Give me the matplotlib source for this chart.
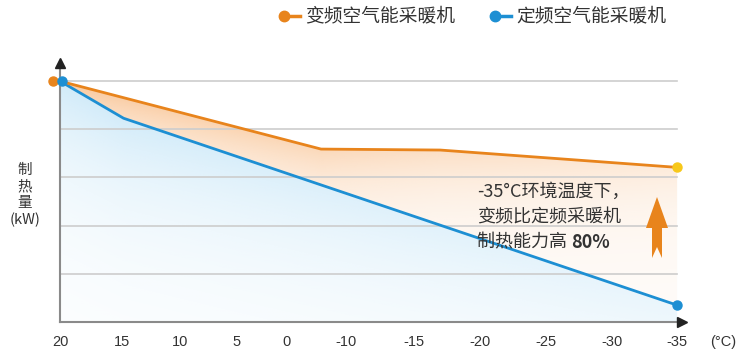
import numpy as np
import matplotlib
matplotlib.use("Agg")
import matplotlib.pyplot as plt
from matplotlib.patches import Polygon
from matplotlib.transforms import ScaledTranslation
from matplotlib.colors import to_rgb

plt.rcParams['font.family'] = ['Noto Sans CJK SC', 'DejaVu Sans']

# ---------------- data ----------------
temp_labels = ['20', '15', '10', '5', '0', '-10', '-15', '-20', '-25', '-30', '-35']
tick_pos = [0, 1.0, 1.94, 2.86, 3.67, 4.64, 5.73, 6.81, 7.88, 8.95, 10.0]
inverter_pos = [0, 4.23, 6.16, 10]
inverter_val = [5.0, 3.59, 3.57, 3.21]
fixed_pos = [0, 1.03, 10]
fixed_val = [5.0, 4.23, 0.35]
grid_levels = [1, 2, 3, 4, 5]
series_names = ['变频空气能采暖机', '定频空气能采暖机']

ORANGE = '#e8841c'
BLUE = '#1d8fd3'
YELLOW = '#f7c81a'

fig = plt.figure(figsize=(7.5, 3.59), dpi=100)
ax = fig.add_axes([0.08, 0.103, 0.836, 0.73])
ax.set_xlim(0, 10.16)
ax.set_ylim(0, 5.44)
for s in ax.spines.values():
    s.set_visible(False)
ax.set_xticks([])
ax.set_yticks([])

# grid lines (drawn over the fills)
for g in grid_levels:
    ax.plot([0, 10], [g, g], color='#cdcdcd', lw=1.2, zorder=3)

# ---------- gradient fills ----------
xs = np.linspace(0, 10, 400)
ys = np.linspace(0, 5, 300)
X, Y = np.meshgrid(xs, ys)

# blue area under fixed-frequency line
blue_poly = Polygon([(0, 0)] + list(zip(fixed_pos, fixed_val)) + [(10, 0)],
                    closed=True, facecolor='none', edgecolor='none')
ax.add_patch(blue_poly)
rgb = to_rgb('#bfe3f7')
img = np.zeros(X.shape + (4,))
img[..., 0], img[..., 1], img[..., 2] = rgb
line_b = np.interp(X, fixed_pos, fixed_val)
dist_b = np.clip(line_b - Y, 0, None)
img[..., 3] = np.clip(0.72 * np.exp(-dist_b / 1.9) * (1 - X / 18), 0, 1)
im = ax.imshow(img, extent=(0, 10, 0, 5), origin='lower', aspect='auto', zorder=2)
im.set_clip_path(blue_poly)

# orange area between the two lines
orange_poly = Polygon(list(zip(inverter_pos, inverter_val)) +
                      list(zip(fixed_pos[::-1], fixed_val[::-1])),
                      closed=True, facecolor='none', edgecolor='none')
ax.add_patch(orange_poly)
rgb = to_rgb('#f9c18f')
img2 = np.zeros(X.shape + (4,))
img2[..., 0], img2[..., 1], img2[..., 2] = rgb
top = np.interp(X, inverter_pos, inverter_val)
dist = np.clip(top - Y, 0, None)
img2[..., 3] = np.clip(0.8 * np.exp(-dist / 1.0) * (1 - X / 15) + 0.05, 0, 1)
im2 = ax.imshow(img2, extent=(0, 10, 0, 5), origin='lower', aspect='auto', zorder=2)
im2.set_clip_path(orange_poly)

# ---------- axes with arrows ----------
ax.plot([0, 0], [0, 5.3], color='#8a8a8a', lw=1.5, zorder=4, clip_on=False)
ax.plot([0, 10.0], [0, 0], color='#8a8a8a', lw=1.5, zorder=4, clip_on=False)
ax.plot([0], [5.38], marker='^', color='#222222', ms=7, zorder=4, clip_on=False)
ax.plot([10.08], [0], marker='>', color='#222222', ms=7, zorder=4, clip_on=False)

# ---------- lines ----------
ax.plot(fixed_pos, fixed_val, color=BLUE, lw=2.0, zorder=5, clip_on=False)
ax.plot(inverter_pos, inverter_val, color=ORANGE, lw=2.0, zorder=6, clip_on=False)

off_left = ScaledTranslation(-5 / 72, 0, fig.dpi_scale_trans)
ax.plot(inverter_pos[:1], inverter_val[:1], 'o', color=ORANGE, ms=6.5, zorder=6,
        clip_on=False, transform=ax.transData + off_left)
off_right = ScaledTranslation(1.5 / 72, 0, fig.dpi_scale_trans)
ax.plot(fixed_pos[:1], fixed_val[:1], 'o', color=BLUE, ms=6.5, zorder=7,
        clip_on=False, transform=ax.transData + off_right)
ax.plot(inverter_pos[-1:], inverter_val[-1:], 'o', color=YELLOW, ms=6.5, zorder=7,
        clip_on=False)
ax.plot(fixed_pos[-1:], fixed_val[-1:], 'o', color=BLUE, ms=6.5, zorder=7,
        clip_on=False)

# ---------- tick labels ----------
tick_font = ['Liberation Sans Narrow', 'Liberation Sans', 'DejaVu Sans']
for p, lab in zip(tick_pos, temp_labels):
    ax.text(p, -0.42, lab, ha='center', va='center', fontsize=10.5, color='#333333',
            family=tick_font)
ax.text(10.75, -0.42, '(°C)', ha='center', va='center', fontsize=10.5, color='#333333',
        family=tick_font)

# y label
fig.text(25 / 750, 1 - 195 / 359, '制\n热\n量\n(kW)', ha='center', va='center',
         fontsize=10.5, color='#333333', linespacing=1.25)

# ---------- legend ----------
def legend_item(x0, color, label):
    fig.add_artist(plt.Line2D([x0 / 750, (x0 + 16) / 750], [1 - 16 / 359] * 2,
                              color=color, lw=2.5))
    fig.add_artist(plt.Line2D([x0 / 750], [1 - 16 / 359], marker='o', color=color,
                              ms=7.5))
    fig.text((x0 + 21) / 750, 1 - 16 / 359, label, ha='left', va='center',
             fontsize=13.5, color='#333333')

legend_item(284, ORANGE, series_names[0])
legend_item(495, BLUE, series_names[1])

# ---------- annotation ----------
fig.text(477 / 750, 1 - 192 / 359, '-35°C环境温度下，', ha='left', va='center',
         fontsize=13, color='#333333')
fig.text(477 / 750, 1 - 217 / 359, '变频比定频采暖机', ha='left', va='center',
         fontsize=13, color='#333333')
t = fig.text(477 / 750, 1 - 242 / 359, '制热能力高 ', ha='left', va='center',
             fontsize=13, color='#333333')
fig.canvas.draw()
bb = t.get_window_extent()
fig.text(bb.x1 / 750, 1 - 242 / 359, '80%', ha='left', va='center',
         fontsize=13, color='#333333', fontweight='bold')

# orange arrow (decorative)
cx = 657
arrow_px = [(cx, 197), (cx + 11, 228), (cx + 5, 228), (cx + 5, 258), (cx, 247),
            (cx - 5, 258), (cx - 5, 228), (cx - 11, 228)]
arrow = Polygon([(x / 750, 1 - y / 359) for x, y in arrow_px], closed=True,
                transform=fig.transFigure, facecolor=ORANGE, edgecolor='none', zorder=8)
fig.add_artist(arrow)

fig.savefig('out.png', dpi=100)
